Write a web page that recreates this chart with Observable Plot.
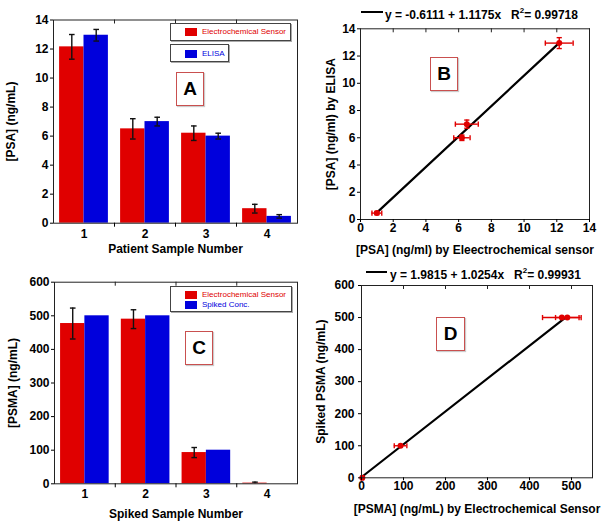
<!DOCTYPE html>
<html><head><meta charset="utf-8">
<script src="https://cdn.jsdelivr.net/npm/d3@7"></script>
<script src="https://cdn.jsdelivr.net/npm/@observablehq/plot@0.6"></script>
<style>
html,body{margin:0;padding:0;background:#fff;}
#wrap{position:relative;width:604px;height:526px;overflow:hidden;font-family:"Liberation Sans",Arial,sans-serif;color:#000;}
.panel{position:absolute;}
.lg{position:absolute;box-sizing:border-box;border:1px solid #444;background:#fff;box-shadow:1px 1px 0 #aaa;}
.sw{position:absolute;width:12px;height:8px;}
.lt{position:absolute;font-size:8px;white-space:nowrap;line-height:8px;}
.lab{position:absolute;box-sizing:border-box;border:1.5px solid #c9504f;background:#fff;font-weight:bold;font-size:19px;display:flex;align-items:center;justify-content:center;box-shadow:1px 1px 1px #ccc;}
.eq{position:absolute;font-size:12px;font-weight:bold;white-space:nowrap;line-height:14px;}
.eq sup{font-size:8px;vertical-align:6px;line-height:0;}
.eqline{position:absolute;height:2px;background:#000;}
</style></head>
<body><div id="wrap"></div>
<script>
// ---- data ----
const samples = [1, 2, 3, 4];
const psaSensor = [12.15, 6.5, 6.2, 1.0];
const psaSensorErr = [0.85, 0.7, 0.5, 0.3];
const psaElisa = [12.95, 7.0, 6.0, 0.47];
const psaElisaErr = [0.4, 0.3, 0.2, 0.12];
const psmaSensor = [477, 490, 93, 2];
const psmaSensorErr = [46, 28, 15, 3];
const psmaSpiked = [500, 500, 100, 0];
const fitB = {a: -0.6111, b: 1.1175};
const fitD = {a: 1.9815, b: 1.0254};
const psaTicks = [0, 2, 4, 6, 8, 10, 12, 14];
const psmaTicks = [0, 100, 200, 300, 400, 500, 600];
const psmaXTicks = [0, 100, 200, 300, 400, 500];

const RED = "#e00000", BLUE = "#0000dc", INK = "#111";
const FONT = "'Liberation Sans', Arial, sans-serif";

const hCap = {draw(ctx, size) { const r = Math.sqrt(size / Math.PI); ctx.moveTo(-r, 0); ctx.lineTo(r, 0); }};
const vCap = {draw(ctx, size) { const r = Math.sqrt(size / Math.PI); ctx.moveTo(0, -r); ctx.lineTo(0, r); }};

function barPanel(o) {
  const rows = samples.map((s, i) => ({s, v1: o.v1[i], e1: o.e1[i], v2: o.v2[i], e2: o.e2 ? o.e2[i] : null}));
  const bounds = samples.slice(0, -1).map(s => s + 0.5);
  const m = o.m, ph = o.H - m.top - m.bottom;
  const marks = [
    Plot.rect(rows, {x1: d => d.s - 0.4, x2: d => d.s, y1: 0, y2: "v1", fill: RED}),
    Plot.rect(rows, {x1: d => d.s, x2: d => d.s + 0.4, y1: 0, y2: "v2", fill: BLUE}),
    Plot.ruleX(rows, {x: d => d.s - 0.2, y1: d => Math.max(0, d.v1 - d.e1), y2: d => d.v1 + d.e1, stroke: INK, strokeWidth: 1.4}),
    Plot.dot(rows, {x: d => d.s - 0.2, y: d => d.v1 + d.e1, symbol: hCap, r: 2.8, stroke: INK, strokeWidth: 1.4}),
    Plot.dot(rows.filter(d => d.v1 - d.e1 > 0), {x: d => d.s - 0.2, y: d => d.v1 - d.e1, symbol: hCap, r: 2.8, stroke: INK, strokeWidth: 1.4})
  ];
  if (o.e2) {
    marks.push(
      Plot.ruleX(rows, {x: d => d.s + 0.2, y1: d => d.v2 - d.e2, y2: d => d.v2 + d.e2, stroke: INK, strokeWidth: 1.4}),
      Plot.dot(rows, {x: d => d.s + 0.2, y: d => d.v2 + d.e2, symbol: hCap, r: 2.8, stroke: INK, strokeWidth: 1.4}),
      Plot.dot(rows, {x: d => d.s + 0.2, y: d => d.v2 - d.e2, symbol: hCap, r: 2.8, stroke: INK, strokeWidth: 1.4})
    );
  }
  marks.push(
    Plot.frame({stroke: "#222"}),
    Plot.axisY({ticks: o.yTicks, tickSize: 3, tickPadding: 2, tickFormat: "d", label: o.yLabel, labelAnchor: "center", labelArrow: "none", labelOffset: o.ylo}),
    Plot.axisX({ticks: samples, tickSize: 0, tickPadding: 6, tickFormat: "d", label: o.xLabel, labelAnchor: "center", labelArrow: "none", labelOffset: o.xlo}),
    Plot.axisX({ticks: bounds, tickSize: 4, tickFormat: () => "", label: null}),
    Plot.tickX(bounds, {x: d => d, insetBottom: ph - 4, stroke: "#222"})
  );
  return Plot.plot({
    width: o.W, height: o.H, marginLeft: m.left, marginRight: m.right, marginTop: m.top, marginBottom: m.bottom,
    style: {fontFamily: FONT, fontSize: "12px", fontWeight: "bold", background: "transparent", overflow: "visible", color: "#000"},
    x: {domain: [0.5, 4.5]},
    y: {domain: o.yDomain},
    marks
  });
}

function scatterPanel(o) {
  const rows = o.xs.map((x, i) => ({x, xe: o.xe[i], y: o.ys[i], ye: o.ye ? o.ye[i] : null}));
  const x0 = d3.min(o.xs), x1 = d3.max(o.xs);
  const fitPts = [{x: x0, y: o.fit.a + o.fit.b * x0}, {x: x1, y: o.fit.a + o.fit.b * x1}];
  const m = o.m, ph = o.H - m.top - m.bottom;
  const marks = [
    Plot.line(fitPts, {x: "x", y: "y", stroke: "#000", strokeWidth: 2.2}),
    Plot.ruleY(rows, {y: "y", x1: d => d.x - d.xe, x2: d => d.x + d.xe, stroke: RED, strokeWidth: 1.4}),
    Plot.dot(rows, {x: d => d.x - d.xe, y: "y", symbol: vCap, r: 2.6, stroke: RED, strokeWidth: 1.4}),
    Plot.dot(rows, {x: d => d.x + d.xe, y: "y", symbol: vCap, r: 2.6, stroke: RED, strokeWidth: 1.4})
  ];
  if (o.ye) {
    marks.push(
      Plot.ruleX(rows, {x: "x", y1: d => d.y - d.ye, y2: d => d.y + d.ye, stroke: RED, strokeWidth: 1.4}),
      Plot.dot(rows, {x: "x", y: d => d.y - d.ye, symbol: hCap, r: 2.6, stroke: RED, strokeWidth: 1.4}),
      Plot.dot(rows, {x: "x", y: d => d.y + d.ye, symbol: hCap, r: 2.6, stroke: RED, strokeWidth: 1.4})
    );
  }
  marks.push(
    Plot.dot(rows, {x: "x", y: "y", r: 3, fill: RED}),
    Plot.frame({stroke: "#222"}),
    Plot.axisY({ticks: o.yTicks, tickSize: 3, tickPadding: o.ytp, tickFormat: "d", label: o.yLabel, labelAnchor: "center", labelArrow: "none", labelOffset: o.ylo}),
    Plot.axisX({ticks: o.xTicks, tickSize: 3, tickPadding: 1, tickFormat: "d", label: o.xLabel, labelAnchor: "center", labelArrow: "none", labelOffset: o.xlo}),
    Plot.tickX(o.xTicks, {x: d => d, insetBottom: ph - 4, stroke: "#222"})
  );
  return Plot.plot({
    width: o.W, height: o.H, marginLeft: m.left, marginRight: m.right, marginTop: m.top, marginBottom: m.bottom,
    style: {fontFamily: FONT, fontSize: "12px", fontWeight: "bold", background: "transparent", overflow: "visible", color: "#000"},
    x: {domain: o.xDomain},
    y: {domain: o.yDomain},
    marks
  });
}

const wrap = document.getElementById("wrap");
function place(node, left, top) {
  const d = document.createElement("div");
  d.className = "panel"; d.style.left = left + "px"; d.style.top = top + "px";
  d.appendChild(node); wrap.appendChild(d);
}
function html(s) { wrap.insertAdjacentHTML("beforeend", s); }

place(barPanel({v1: psaSensor, e1: psaSensorErr, v2: psaElisa, e2: psaElisaErr, yDomain: [0, 14], yTicks: psaTicks,
  yLabel: "[PSA] (ng/mL)", xLabel: "Patient Sample Number", W: 302, H: 263,
  m: {left: 53, right: 5, top: 19.5, bottom: 40.3}, ylo: 47, xlo: 30}), 0, 0);

place(scatterPanel({xs: psaSensor, xe: psaSensorErr, ys: psaElisa, ye: psaElisaErr, fit: fitB,
  xDomain: [0, 14], yDomain: [0, 14], xTicks: psaTicks, yTicks: psaTicks, ytp: 2,
  yLabel: "[PSA] (ng/ml) by ELISA", xLabel: "[PSA] (ng/ml) by Eleectrochemical sensor", W: 302, H: 263,
  m: {left: 58, right: 15, top: 28.3, bottom: 44}, ylo: 34, xlo: 34}), 302, 0);

place(barPanel({v1: psmaSensor, e1: psmaSensorErr, v2: psmaSpiked, e2: null, yDomain: [0, 600], yTicks: psmaTicks,
  yLabel: "[PSMA] (ng/mL)", xLabel: "Spiked Sample Number", W: 302, H: 263,
  m: {left: 54, right: 5, top: 18.7, bottom: 42.7}, ylo: 46.5, xlo: 34}), 0, 263);

place(scatterPanel({xs: psmaSensor, xe: psmaSensorErr, ys: psmaSpiked, ye: null, fit: fitD,
  xDomain: [0, 550], yDomain: [0, 600], xTicks: psmaXTicks, yTicks: psmaTicks, ytp: 4,
  yLabel: "Spiked PSMA (ng/mL)", xLabel: "[PSMA] (ng/mL) by Electrochemical Sensor", W: 302, H: 263,
  m: {left: 59, right: 12, top: 22, bottom: 48.7}, ylo: 45, xlo: 35}), 302, 263);

// legends
html(`<div class="lg" style="left:170px;top:23px;width:121px;height:18px"></div>
<div class="sw" style="left:185px;top:28px;background:${RED}"></div>
<div class="lt" style="left:202px;top:28px;color:${RED}">Electrochemical Sensor</div>
<div class="lg" style="left:170px;top:44px;width:59px;height:18px"></div>
<div class="sw" style="left:185px;top:49.5px;background:${BLUE}"></div>
<div class="lt" style="left:202px;top:49.5px;color:${BLUE}">ELISA</div>
<div class="lg" style="left:170px;top:286px;width:122px;height:26px"></div>
<div class="sw" style="left:185px;top:290.5px;background:${RED}"></div>
<div class="lt" style="left:202px;top:290.5px;color:${RED}">Electrochemical Sensor</div>
<div class="sw" style="left:185px;top:300.5px;background:${BLUE}"></div>
<div class="lt" style="left:202px;top:300.5px;color:${BLUE}">Spiked Conc.</div>`);

// panel labels
html(`<div class="lab" style="left:176px;top:72px;width:28px;height:34px">A</div>
<div class="lab" style="left:430px;top:57px;width:28px;height:34px">B</div>
<div class="lab" style="left:185px;top:331px;width:28px;height:34px">C</div>
<div class="lab" style="left:436px;top:317px;width:29px;height:34px">D</div>`);

// fit equations
html(`<div class="eqline" style="left:361px;top:11px;width:22px"></div>
<div class="eq" style="left:385px;top:8px">y = ${fitB.a} + ${fitB.b}x&nbsp;&nbsp;&nbsp;R<sup>2</sup>= 0.99718</div>
<div class="eqline" style="left:366px;top:271px;width:21px"></div>
<div class="eq" style="left:390px;top:268px">y = ${fitD.a} + ${fitD.b}x&nbsp;&nbsp;&nbsp;R<sup>2</sup>= 0.99931</div>`);
</script>
</body></html>
